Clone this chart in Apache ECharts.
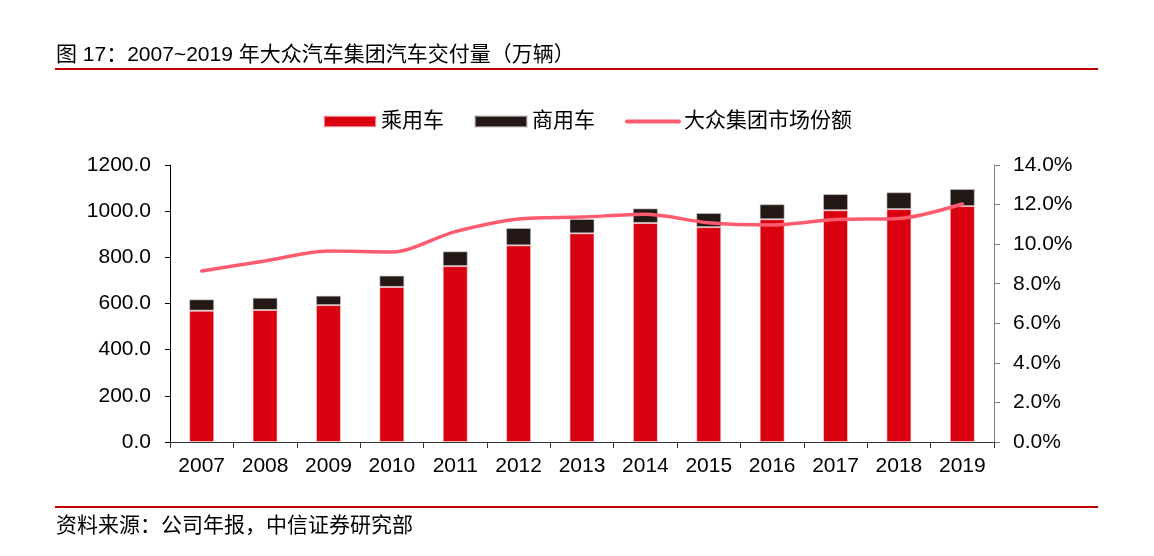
<!DOCTYPE html>
<html>
<head>
<meta charset="utf-8">
<script src="https://cdn.jsdelivr.net/npm/echarts@6/dist/echarts.min.js"></script>
<style>
html,body{margin:0;padding:0;background:#fff;}
#chart{width:1154px;height:556px;}
</style>
</head>
<body>
<div id="chart"></div>
<script>
var categories = ['2007','2008','2009','2010','2011','2012','2013','2014','2015','2016','2017','2018','2019'];
var passenger = [569, 572, 593, 672, 762, 852, 904, 949, 931, 965, 1004, 1009, 1022];
var commercial = [49, 53, 41, 49, 64, 75, 62, 63, 61, 65, 70, 73, 74];
var share = [8.64, 9.15, 9.65, 9.60, 10.63, 11.27, 11.37, 11.51, 11.08, 10.97, 11.24, 11.30, 12.03];
var leftTicks = {min: 0, max: 1200, interval: 200};
var rightTicks = {min: 0, max: 14, interval: 2};

var FONT = '"Liberation Sans", Arial, "Noto Sans CJK SC", sans-serif';
var chart = echarts.init(document.getElementById('chart'));
chart.setOption({
  animation: false,
  textStyle: {fontFamily: FONT},
  grid: {left: 170, right: 160, top: 165, bottom: 114},
  legend: {
    left: 318, top: 106,
    itemWidth: 52, itemHeight: 11, itemGap: 30,
    textStyle: {fontSize: 21, color: '#000', fontFamily: FONT},
    data: [
      {name: '乘用车', icon: 'rect'},
      {name: '商用车', icon: 'rect'},
      {name: '大众集团市场份额', itemStyle: {opacity: 0}, lineStyle: {width: 4}}
    ]
  },
  graphic: [
    {type: 'text', left: 56, top: 45, style: {text: '图 17：2007~2019 年大众汽车集团汽车交付量（万辆）', font: '21px ' + FONT, fill: '#000'}},
    {type: 'line', shape: {x1: 55, y1: 69, x2: 1098, y2: 69}, style: {stroke: '#C00000', lineWidth: 2}},
    {type: 'line', shape: {x1: 55, y1: 507, x2: 1098, y2: 507}, style: {stroke: '#C00000', lineWidth: 2}},
    {type: 'text', left: 56, top: 516, style: {text: '资料来源：公司年报，中信证券研究部', font: '21px ' + FONT, fill: '#000'}}
  ],
  xAxis: {
    type: 'category', data: categories,
    boundaryGap: true,
    axisLine: {lineStyle: {color: '#333', width: 1}},
    axisTick: {show: true, inside: false, length: 6, alignWithLabel: false, lineStyle: {color: '#333'}},
    axisLabel: {fontSize: 21, color: '#000', margin: 14}
  },
  yAxis: [
    {
      type: 'value', min: leftTicks.min, max: leftTicks.max, interval: leftTicks.interval,
      axisLine: {show: true, lineStyle: {color: '#000'}},
      axisTick: {show: true, length: 5, lineStyle: {color: '#000'}},
      splitLine: {show: false},
      axisLabel: {fontSize: 21, color: '#000', margin: 19, formatter: function (v) { return v.toFixed(1); }}
    },
    {
      type: 'value', min: rightTicks.min, max: rightTicks.max, interval: rightTicks.interval,
      position: 'right',
      axisLine: {show: true, lineStyle: {color: '#808080'}},
      axisTick: {show: true, length: 6, lineStyle: {color: '#808080'}},
      splitLine: {show: false},
      axisLabel: {fontSize: 21, color: '#000', margin: 19, formatter: function (v) { return v.toFixed(1) + '%'; }}
    }
  ],
  series: [
    {
      name: '乘用车', type: 'bar', stack: 'total', data: passenger, barWidth: 25,
      itemStyle: {color: '#D9000F', borderColor: 'rgba(255,220,220,0.6)', borderWidth: 1}
    },
    {
      name: '商用车', type: 'bar', stack: 'total', data: commercial, barWidth: 25,
      itemStyle: {color: '#231815', borderColor: 'rgba(200,200,200,0.6)', borderWidth: 1}
    },
    {
      name: '大众集团市场份额', type: 'line', yAxisIndex: 1, data: share,
      smooth: 0.3, symbol: 'none',
      lineStyle: {color: '#FF5B6E', width: 3.5, cap: 'round'},
      itemStyle: {color: '#FF5B6E'}
    }
  ]
});
</script>
</body>
</html>
